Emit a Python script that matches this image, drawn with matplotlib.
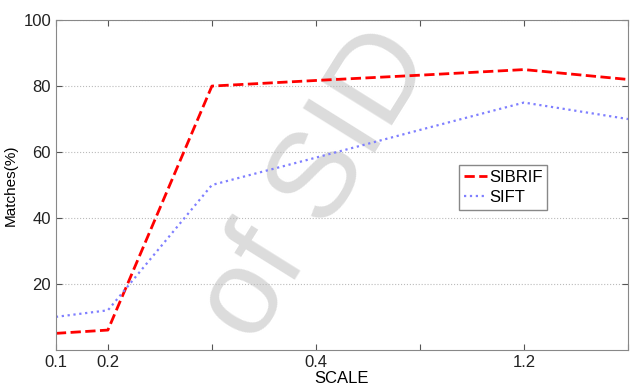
import numpy as np
import matplotlib.pyplot as plt

plt.rcParams['font.family'] = ['Liberation Sans', 'DejaVu Sans']

# positions along the x axis and their tick labels
x_pos = [0.5, 1, 2, 3, 4, 5, 6]
tick_pos = [0.5, 1, 2, 3, 4, 5, 6]
tick_labels = ['0.1', '0.2', '', '0.4', '', '1.2', '']

sibrif = [5, 6, 80, 81.7, 83.3, 85, 82]
sift = [10, 12, 50, 58.3, 66.7, 75, 70]

fig = plt.figure(figsize=(6.35, 3.87), dpi=100)
ax = fig.add_axes([0.088, 0.096, 0.901, 0.852])

# faint watermark behind the plot
fig.text(0.5, 0.52, 'of SID', fontsize=88, color='#dcdcdc', rotation=58,
         ha='center', va='center', zorder=-1)
ax.set_facecolor('none')

ax.plot(x_pos, sibrif, color='red', linestyle='--', linewidth=2, label='SIBRIF')
ax.plot(x_pos, sift, color='#7f7fff', linestyle=':', linewidth=1.6, label='SIFT')

ax.set_xlim(0.5, 6)
ax.set_ylim(0, 100)
ax.set_xticks(tick_pos)
ax.set_xticklabels(tick_labels)
ax.set_yticks([20, 40, 60, 80, 100])
ax.tick_params(direction='in', top=True, right=True, labelsize=12, length=4,
               color='#555555', labelcolor='#222222')
ax.yaxis.grid(True, linestyle=':', color='#bbbbbb', linewidth=0.8)
for s in ax.spines.values():
    s.set_color('#888888')

ax.set_xlabel('SCALE', fontsize=12, labelpad=1)
ax.set_ylabel('Matches(%)', fontsize=11)

leg = ax.legend(loc='lower left', bbox_to_anchor=(0.69, 0.4), fontsize=12,
                handlelength=1.4, handletextpad=0.1, borderpad=0.3,
                labelspacing=0.3, fancybox=False, framealpha=1,
                edgecolor='#888888')

fig.savefig('out.png', dpi=100)
